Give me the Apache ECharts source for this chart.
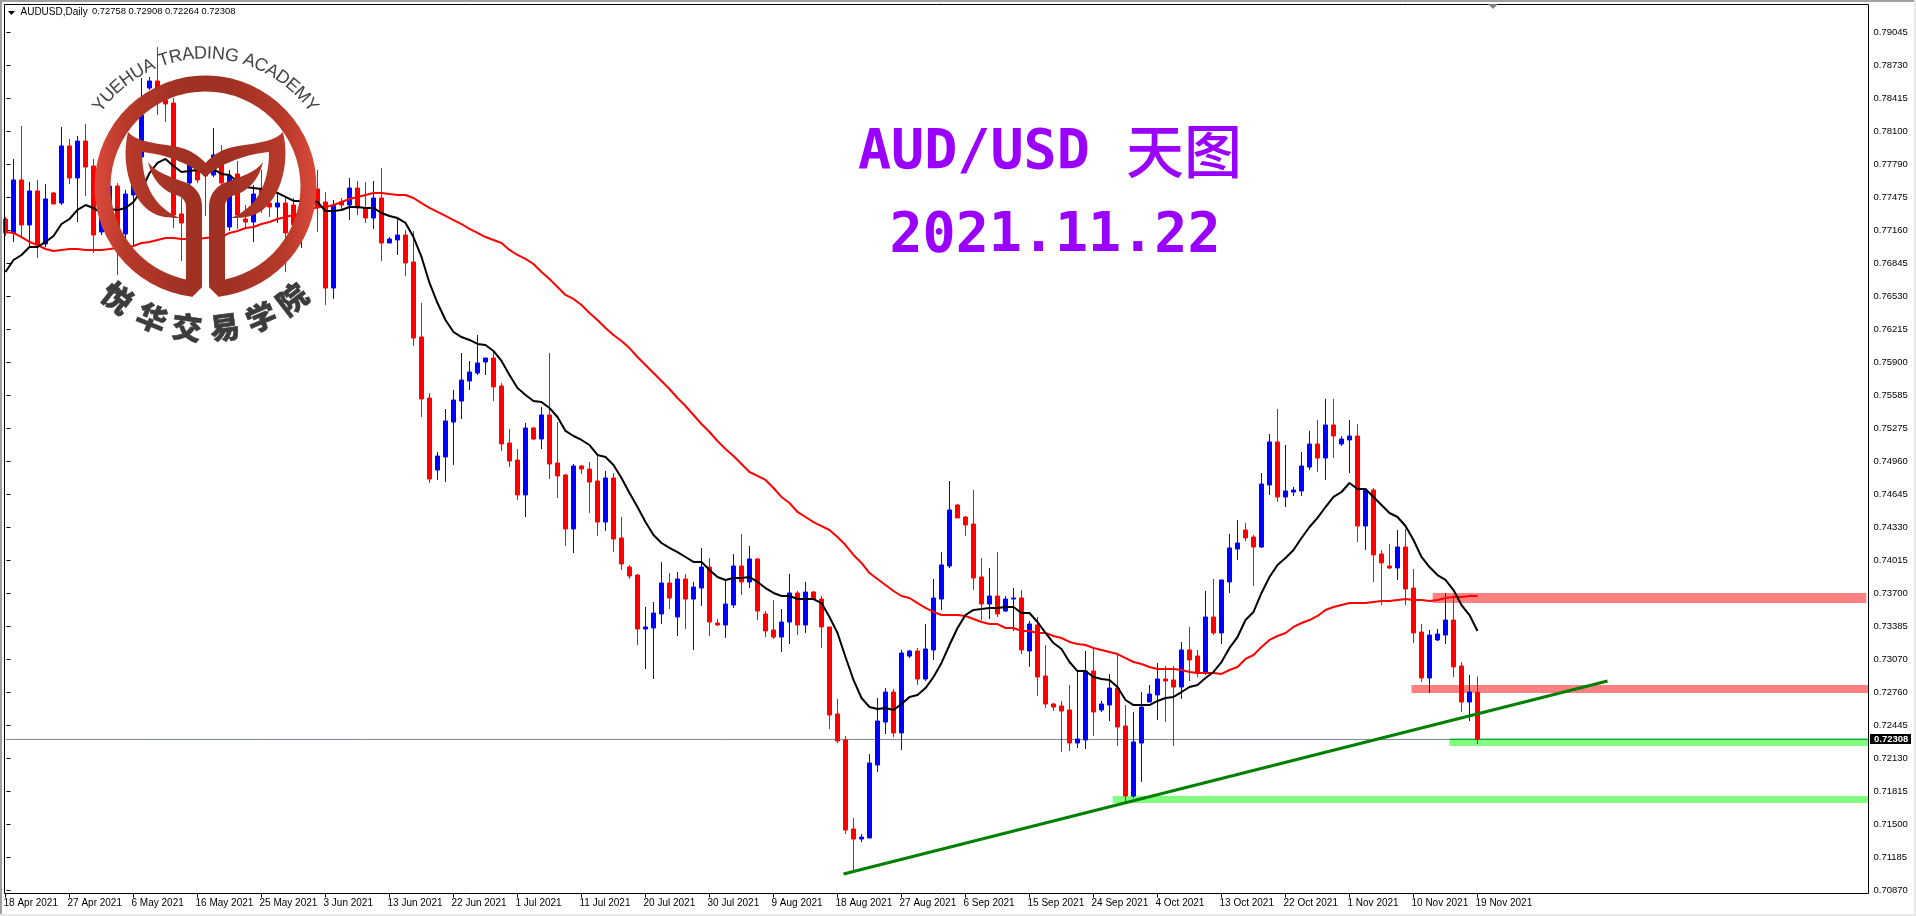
<!DOCTYPE html>
<html><head><meta charset="utf-8"><title>AUD/USD</title>
<style>html,body{margin:0;padding:0;background:#fff;overflow:hidden}#c{width:1916px;height:916px}</style>
<script src="https://cdn.jsdelivr.net/npm/echarts@6/dist/echarts.min.js"></script></head>
<body><div id="c"></div>
<script>
const tickLabels=['18 Apr 2021','27 Apr 2021','6 May 2021','16 May 2021','25 May 2021','3 Jun 2021','13 Jun 2021','22 Jun 2021','1 Jul 2021','11 Jul 2021','20 Jul 2021','30 Jul 2021','9 Aug 2021','18 Aug 2021','27 Aug 2021','6 Sep 2021','15 Sep 2021','24 Sep 2021','4 Oct 2021','13 Oct 2021','22 Oct 2021','1 Nov 2021','10 Nov 2021','19 Nov 2021'];
const priceTicks=[0.79045,0.78730,0.78415,0.78100,0.77790,0.77475,0.77160,0.76845,0.76530,0.76215,0.75900,0.75585,0.75275,0.74960,0.74645,0.74330,0.74015,0.73700,0.73385,0.73070,0.72760,0.72445,0.72130,0.71815,0.71500,0.71185,0.70870];
const opens=[.77268,.77135,.77640,.77211,.77535,.77030,.77516,.77420,.77964,.77659,
.78011,.77773,.77144,.77325,.77582,.77125,.77497,.77859,.78516,.78583,
.78402,.78373,.77316,.77611,.77735,.77754,.77687,.77783,.77192,.77697,
.77268,.77239,.77544,.77420,.77382,.77420,.77401,.77087,.77592,.77554,
.77430,.76610,.77430,.77401,.77563,.77373,.77277,.77468,.77039,.77068,
.77115,.76858,.76143,.75562,.74876,.75000,.75333,.75533,.75724,.75800,
.75905,.75943,.75676,.75133,.74971,.74638,.75276,.75171,.75400,.74943,
.74828,.74314,.74914,.74885,.74771,.74380,.74800,.74228,.73951,.73875,
.73361,.73370,.73504,.73799,.73475,.73837,.73646,.73751,.73951,.73418,
.73399,.73589,.73961,.73809,.74028,.73504,.73351,.73284,.73427,.73704,
.73399,.73713,.73646,.73380,.72551,.72303,.71455,.71359,.71369,.72064,
.72474,.72760,.72370,.73103,.73151,.72884,.73161,.73646,.73961,.74542,
.74428,.74361,.73856,.73599,.73675,.73532,.73646,.73656,.73151,.73399,
.72913,.72646,.72627,.72589,.72274,.72303,.72960,.72589,.72636,.72798,
.72436,.71769,.72274,.72665,.72732,.72884,.72875,.72808,.73161,.73103,
.72941,.73475,.73323,.73809,.74123,.74304,.74237,.74142,.74733,.75143,
.74619,.74666,.74676,.74904,.75124,.74990,.75305,.75124,.75162,.75200,
.74342,.74685,.74075,.73961,.73942,.74142,.73751,.73332,.72894,.73256,
.73303,.73446,.73008,.72665,.72758];
const closes=[.77135,.77640,.77211,.77535,.77020,.77459,.77411,.77964,.77659,.78011,
.77763,.77115,.77277,.77582,.77135,.77506,.77659,.78259,.78583,.78516,
.78364,.77306,.77230,.77792,.77640,.77678,.77878,.77611,.77678,.77306,
.77239,.77506,.77411,.77382,.77420,.77135,.77211,.77306,.77401,.77373,
.76610,.77401,.77401,.77563,.77373,.77277,.77468,.77039,.77077,.77115,
.76849,.76134,.75553,.74790,.75009,.75343,.75543,.75734,.75810,.75896,
.75943,.75667,.75124,.74962,.74638,.75276,.75171,.75400,.74933,.74819,
.74314,.74914,.74885,.74761,.74380,.74800,.74218,.73980,.73866,.73361,
.73380,.73513,.73799,.73656,.73837,.73646,.73761,.73951,.73427,.73399,
.73599,.73961,.73809,.74028,.73532,.73342,.73284,.73427,.73704,.73399,
.73713,.73646,.73380,.72541,.72293,.71445,.71359,.71378,.72084,.72484,
.72760,.72370,.73132,.73151,.72884,.73170,.73656,.73971,.74495,.74419,
.74352,.73847,.73599,.73675,.73504,.73646,.73656,.73161,.73408,.72903,
.72646,.72617,.72579,.72274,.72312,.72960,.72570,.72646,.72798,.72427,
.71769,.72284,.72617,.72741,.72884,.72865,.72808,.73161,.73065,.72941,
.73475,.73323,.73828,.74133,.74180,.74228,.74142,.74742,.75143,.74619,
.74676,.74685,.74914,.75124,.74990,.75305,.75200,.75171,.75200,.74342,
.74685,.74066,.73990,.73942,.74142,.73742,.73323,.72894,.73303,.73313,
.73446,.72999,.72665,.72760,.72308];
const highs=[.77287,.77840,.78154,.77621,.77640,.77601,.77525,.78145,.78030,.78059,
.78173,.77840,.77316,.77640,.77611,.77544,.77735,.78612,.78621,.78907,
.78450,.78421,.77468,.77849,.77783,.77783,.78135,.77973,.77735,.77821,
.77401,.77592,.77735,.77582,.77525,.77478,.77468,.77401,.77735,.77735,
.77525,.77449,.77468,.77659,.77630,.77621,.77630,.77754,.77096,.77268,
.77163,.77154,.76467,.75610,.75047,.75457,.75638,.75991,.75915,.76162,
.75943,.76000,.75705,.75267,.75076,.75324,.75286,.75476,.75991,.75333,
.74838,.74933,.74924,.74952,.75019,.74866,.74847,.74428,.73971,.73885,
.73570,.73618,.74000,.73894,.73904,.73885,.73809,.74133,.74037,.73456,
.73828,.74075,.74266,.74152,.74037,.73532,.73637,.73551,.73885,.73723,
.73809,.73723,.73675,.73380,.72694,.72341,.71559,.71407,.72169,.72703,
.72798,.72789,.73161,.73161,.73180,.73408,.73837,.74094,.74771,.74552,
.74438,.74685,.74037,.73942,.74094,.73675,.73751,.73732,.73437,.73475,
.73208,.72655,.72675,.72827,.72960,.73151,.73170,.72675,.72932,.73122,
.72636,.72570,.72760,.72827,.73037,.73008,.73008,.73237,.73380,.73161,
.73723,.73837,.73828,.74266,.74399,.74371,.74256,.74847,.75219,.75457,
.75114,.74714,.75047,.75248,.75352,.75553,.75553,.75200,.75352,.75314,
.74695,.74704,.74114,.74171,.74304,.74314,.73932,.73408,.73351,.73361,
.73704,.73685,.73046,.72922,.72908];
const lows=[.77106,.77049,.77096,.77001,.76896,.77001,.77411,.77401,.77601,.77239,
.77487,.76944,.77115,.77239,.76734,.77039,.77020,.77783,.78497,.78259,
.78192,.77182,.76868,.77563,.77611,.77297,.77668,.77582,.77154,.77173,
.77182,.77049,.77325,.77287,.77230,.76763,.77144,.76992,.77306,.77144,
.76448,.76506,.77344,.77258,.77306,.77230,.77173,.76868,.77039,.76925,
.76725,.76058,.75381,.74752,.74781,.74762,.74924,.75362,.75638,.75781,
.75781,.75533,.75057,.74904,.74590,.74428,.75162,.75076,.74790,.74609,
.74152,.74085,.74838,.74466,.74247,.74295,.74094,.73923,.73837,.73208,
.72979,.72884,.73408,.73551,.73294,.73361,.73161,.73580,.73294,.73389,
.73275,.73561,.73685,.73751,.73446,.73284,.73265,.73141,.73218,.73303,
.73323,.73637,.73180,.72408,.72274,.71407,.71064,.71331,.71369,.71998,
.72360,.72331,.72207,.73084,.72827,.72865,.73065,.73542,.73942,.74419,
.74247,.73732,.73446,.73456,.73475,.73523,.73342,.73122,.72999,.72722,
.72608,.72579,.72188,.72198,.72227,.72217,.72341,.72570,.72484,.72246,
.71712,.71750,.71903,.72665,.72493,.72474,.72246,.72694,.72865,.72903,
.72922,.73303,.73218,.73704,.74018,.74199,.73770,.74133,.74638,.74571,
.74523,.74628,.74628,.74876,.74857,.74781,.74990,.75105,.74847,.74190,
.74114,.73809,.73589,.73932,.73828,.73589,.73227,.72856,.72751,.73246,
.73218,.72903,.72570,.72484,.72264];
const maFast=[.76763,.76877,.76925,.77001,.77001,.77049,.77106,.77220,.77268,.77354,
.77401,.77373,.77325,.77363,.77354,.77373,.77430,.77544,.77706,.77802,
.77840,.77773,.77716,.77725,.77735,.77706,.77744,.77697,.77687,.77621,
.77573,.77563,.77554,.77544,.77516,.77478,.77440,.77440,.77449,.77430,
.77344,.77344,.77354,.77382,.77382,.77373,.77373,.77325,.77297,.77277,
.77230,.77096,.76906,.76658,.76467,.76305,
.76191,.76143,.76115,.76077,.76067,.76010,.75915,.75781,.75657,.75591,.75533,.75524,.75467,.75381,.75248,.75200,.75162,.75114,.75019,
.75000,.74924,.74800,.74657,.74523,
.74380,.74256,.74180,.74133,.74094,.74047,.74000,.74000,.73923,.73856,.73828,.73847,.73847,.73856,.73809,.73751,.73704,.73675,.73675,.73646,.73646,.73646,.73608,.73475,.73323,.73094,.72875,.72703,.72617,.72598,.72608,.72589,.72646,.72713,.72732,
.72798,.72903,.73037,.73208,.73370,.73494,.73542,.73551,.73561,.73561,.73570,.73570,.73513,.73513,.73427,.73323,.73227,.73170,.73046,.72960,.72960,.72903,.72884,.72875,.72808,.72684,.72636,.72636,.72636,.72675,.72703,.72713,.72760,.72808,.72827,.72894,.72951,
.73046,.73180,.73284,.73446,.73523,.73704,.73856,.73971,.74037,.74114,.74228,.74333,.74419,.74523,.74619,.74666,.74752,.74695,.74695,.74619,.74542,.74466,.74428,.74342,.74209,.74047,.73951,.73875,.73828,.73732,.73589,.73494,.73342];
const maSlow=[.77144,.77135,.77096,.77049,.77020,.76982,.76963,.76973,.76982,.76982,
.76973,.76973,.76973,.76982,.76992,.77001,.77011,.77039,.77049,.77068,
.77087,.77087,.77077,.77077,.77077,.77087,.77096,.77096,.77135,.77154,
.77182,.77192,.77220,.77239,.77268,.77287,.77306,.77325,.77354,.77382,
.77382,.77401,.77430,.77459,.77478,.77497,.77516,.77516,.77506,.77497,
.77497,.77468,.77420,.77373,.77335,.77297,.77258,.77220,.77173,.77135,
.77096,.77068,.77039,.76973,.76925,.76887,.76839,.76763,.76696,.76620,.76544,.76506,.76448,.76372,.76305,
.76229,.76162,.76105,.76038,.75953,
.75877,.75800,.75724,.75648,.75562,.75486,.75400,.75314,.75238,.75152,.75076,.75009,.74933,.74857,.74819,
.74781,.74704,.74619,.74561,.74476,.74428,.74380,.74342,.74304,.74237,.74161,.74066,.73990,.73894,.73837,.73780,.73723,.73675,.73656,
.73608,.73561,.73523,.73494,.73494,.73494,.73485,.73456,.73427,.73408,.73408,.73370,.73370,.73342,.73342,.73323,.73323,.73294,.73275,.73237,.73218,.73208,.73180,.73161,.73141,.73122,.73084,.73046,.73027,.72999,.72979,.72979,.72979,.72970,.72951,.72941,.72941,.72941,
.72932,.72970,.72999,.73075,.73113,.73189,.73256,.73294,.73323,.73380,.73418,.73446,.73485,.73542,.73570,.73589,.73608,.73608,.73608,.73618,.73627,.73627,.73637,.73646,.73637,.73637,.73627,.73637,.73656,.73665,.73665,.73675,.73675];
const zoneStart=[178.4,175.75,180.5,138.4];
const zoneEnd=[232.6,232.9,232.9,232.9];
const zoneTop=[.73704,.72827,.72322,.71769];
const zoneBottom=[.73608,.72751,.72246,.71702];
const zoneColors=['#ff8080','#ff8080','#80ff80','#80ff80'];
const trendBars=[104.75,200.25];
const trendPrices=[.71026,.72865];
const lastPrice=.72308;
const headerName='AUDUSD,Daily';
const headerOHLC='0.72758 0.72908 0.72264 0.72308';

const slots=233;
const categories=[];for(let i=0;i<=slots;i++){categories.push(i%8===0&&tickLabels[i/8]?tickLabels[i/8]:'');}
const candleData=opens.map((o,i)=>[o,closes[i],lows[i],highs[i]]);
const FONT="'Liberation Sans',Arial,sans-serif";
const ringFill={type:'linear',x:94,y:0,x2:317,y2:0,global:true,colorStops:[{offset:0,color:'#dc4a3b'},{offset:.14,color:'#b83a2b'},{offset:.4,color:'#a03123'},{offset:.6,color:'#a03123'},{offset:.86,color:'#b83a2b'},{offset:1,color:'#dc4a3b'}]};

const logo=[];
const gfx=[
 {type:'rect',z:120,silent:true,shape:{x:0,y:0,width:1916,height:2},style:{fill:'#a0a0a0'}},
 {type:'rect',z:120,silent:true,shape:{x:0,y:0,width:2,height:916},style:{fill:'#a0a0a0'}},
 {type:'rect',z:120,silent:true,shape:{x:0,y:914,width:1916,height:2},style:{fill:'#e8e8e8'}},
 {type:'rect',z:120,silent:true,shape:{x:1914,y:0,width:2,height:916},style:{fill:'#e8e8e8'}},
 {type:'rect',z:50,silent:true,shape:{x:4.5,y:4.5,width:1864,height:889},style:{fill:'none',stroke:'#000',lineWidth:1}},
 {type:'polygon',z:60,silent:true,shape:{points:[[8,11],[15,11],[11.5,15]]},style:{fill:'#000'}},
 {type:'polygon',z:60,silent:true,shape:{points:[[1488,4],[1498,4],[1493,9]]},style:{fill:'#808080'}},
 {type:'text',z:60,silent:true,x:20.5,y:7,style:{text:headerName,font:'10px '+FONT,fill:'#000'}},
 {type:'text',z:60,silent:true,x:92,y:7,style:{text:headerOHLC,font:'9.4px '+FONT,fill:'#000'}},
 {type:'text',z:110,silent:true,x:858,y:154,style:{text:'AUD/USD',font:"bold 55px 'DejaVu Sans Mono',monospace",fill:'#9900ff',textVerticalAlign:'middle'}},
 {type:'text',z:110,silent:true,x:1184,y:151,style:{text:'天图',font:"500 58px 'Noto Sans CJK SC',sans-serif",fill:'#9900ff',textAlign:'center',textVerticalAlign:'middle'}},
 {type:'text',z:110,silent:true,x:1055,y:237,style:{text:'2021.11.22',font:"bold 55px 'DejaVu Sans Mono',monospace",fill:'#9900ff',textAlign:'center',textVerticalAlign:'middle'}}
];
const logoPaths=[
 'M192 296.7 A111 111 0 1 1 219 296.7 L209 287 L209 270 L224 270 L224 279.7 A95 95 0 1 0 187 279.7 L187 270 L202 270 L202 287 Z',
 'M128 132 C135 140 150 143 173 146 C190 149 198 155 205.5 163 C213 155 221 149 238 146 C261 143 276 140 283 132 C291 165 279 205 254 215 C245 218 238 218 231 218 C256 208 269 185 269 152 C255 153 225 160 205.5 177 C186 160 156 153 142 152 C142 185 155 208 180 218 C173 218 166 218 157 215 C132 205 120 165 128 132 Z',
 'M148 162 C155 172 170 177 187 183 C197 188 202 196 202 207 L202 287 L192 297 L186 280 L186 207 C186 200 182 197 176 195 C163 191 152 180 148 162 Z',
 'M263 162 C256 172 241 177 224 183 C214 188 209 196 209 207 L209 287 L219 297 L225 280 L225 207 C225 200 229 197 235 195 C248 191 259 180 263 162 Z'
];
const logoCx=205.5,logoCy=186.5;
const arcText='YUEHUA TRADING ACADEMY';
const arcFont="18px 'Liberation Sans',Arial,sans-serif";
(function(){
 const ctx=document.createElement('canvas').getContext('2d');ctx.font=arcFont;
 const total=ctx.measureText(arcText).width,r=133,half=total/2/r;
 let run=0;
 for(const ch of arcText){
  const w=ctx.measureText(ch).width;const a=-half+(run+w/2)/r;run+=w;
  if(ch===' ')continue;
  logo.push({type:'text',z:105,silent:true,x:logoCx+r*Math.sin(a),y:logoCy-r*Math.cos(a),rotation:-a,
    style:{text:ch,font:arcFont,fill:'#444',textAlign:'center',textVerticalAlign:'middle'}});
 }
})();
const cnChars=['悦','华','交','易','学','院'];
const cnAngles=[-38.4,-22.2,-7.5,7.8,23,37.6];
cnChars.forEach((ch,i)=>{const a=cnAngles[i]*Math.PI/180,r=142;
 logo.push({type:'text',z:105,silent:true,x:logoCx+r*Math.sin(a),y:logoCy+r*Math.cos(a),rotation:a,
  style:{text:ch,font:"900 30px 'Noto Sans CJK SC',sans-serif",fill:'#3c3c3c',stroke:'#3c3c3c',lineWidth:.6,textAlign:'center',textVerticalAlign:'middle'}});});

const chart=echarts.init(document.getElementById('c'),null,{renderer:'canvas'});
chart.setOption({
 animation:false,backgroundColor:'#fff',
 grid:{left:5.5,top:4.5,width:8*slots,height:889,show:false},
 tooltip:{show:false},
 xAxis:[
  {type:'category',data:categories,boundaryGap:false,axisLine:{show:false},
   axisTick:{show:true,length:4,interval:(i,v)=>v!=='',lineStyle:{color:'#000'}},
   axisLabel:{interval:(i,v)=>v!=='',align:'left',margin:5,color:'#000',fontFamily:FONT,fontSize:10,padding:[0,0,0,-2]},splitLine:{show:false}},
  {type:'value',min:0,max:slots,show:false,splitLine:{show:false}}
 ],
 yAxis:{type:'value',position:'right',offset:-1,min:0.70840,max:0.79312,scale:true,axisLine:{show:false},splitLine:{show:false},
  axisTick:{show:true,length:4,customValues:priceTicks,lineStyle:{color:'#000'}},
  axisLabel:{customValues:priceTicks,margin:5,color:'#000',fontFamily:FONT,fontSize:9.5,formatter:v=>v.toFixed(5)}},
 graphic:{elements:gfx.concat(logo)},
 series:[
  {type:'custom',xAxisIndex:1,yAxisIndex:0,z:1,silent:true,clip:false,
   data:zoneStart.map((s,i)=>[s,zoneEnd[i],zoneTop[i],zoneBottom[i],i]),
   encode:{x:[0,1],y:[2,3]},
   renderItem(p,api){const a=api.coord([api.value(0),api.value(2)]),b=api.coord([api.value(1),api.value(3)]);
    return {type:'rect',shape:{x:a[0],y:a[1],width:b[0]-a[0],height:b[1]-a[1]},style:{fill:zoneColors[api.value(4)]}};}},
  {type:'line',xAxisIndex:1,z:1,silent:true,symbol:'none',data:[[0,lastPrice],[zoneStart[2],lastPrice]],lineStyle:{color:'#778899',width:1}},
  {type:'line',xAxisIndex:1,z:1,silent:true,symbol:'none',data:[[zoneStart[2],lastPrice],[slots,lastPrice]],lineStyle:{color:'#2a8a5a',width:1}},
  {type:'candlestick',xAxisIndex:0,z:2,silent:true,barWidth:4,data:candleData,
   itemStyle:{color:'#0000ff',color0:'#ff0000',borderColor:'#0000ff',borderColor0:'#ff0000',borderWidth:1}},
  {type:'line',xAxisIndex:0,z:3,silent:true,symbol:'none',data:maSlow,lineStyle:{color:'#ff0000',width:2}},
  {type:'line',xAxisIndex:0,z:3,silent:true,symbol:'none',data:maFast,lineStyle:{color:'#000000',width:2}},
  {type:'line',xAxisIndex:1,z:4,silent:true,symbol:'none',data:trendBars.map((b,i)=>[b,trendPrices[i]]),lineStyle:{color:'#008000',width:3}},
  {type:'custom',xAxisIndex:1,z:5,silent:true,clip:false,data:[[slots,lastPrice]],encode:{x:0,y:1},
   renderItem(p,api){const c=api.coord([api.value(0),api.value(1)]);
    return {type:'group',children:[
     {type:'rect',shape:{x:1870,y:Math.round(c[1])-5,width:41,height:10},style:{fill:'#000'}},
     {type:'text',style:{text:lastPrice.toFixed(5),x:1874,y:Math.round(c[1]),fill:'#fff',font:'bold 9.5px '+FONT,textVerticalAlign:'middle'}}]};}},
  {type:'custom',coordinateSystem:'none',z:100,silent:true,data:[0],
   renderItem(){return {type:'group',children:logoPaths.map(d=>({type:'path',shape:{pathData:d},style:{fill:ringFill}}))};}}
 ]
});
</script></body></html>
